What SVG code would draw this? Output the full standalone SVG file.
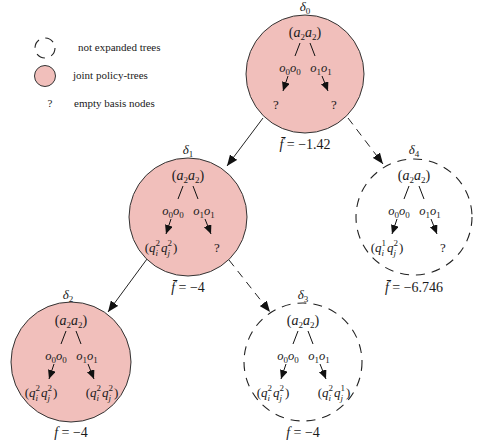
<svg xmlns="http://www.w3.org/2000/svg" width="477" height="441" viewBox="0 0 477 441">
<style>
  .bg{fill:#ffffff}
  .pink{fill:#f1bfbb;stroke:#333;stroke-width:1}
  .dash{fill:none;stroke:#222;stroke-width:1.1;stroke-dasharray:9 7}
  .t{font-family:"Liberation Serif","DejaVu Serif",serif;fill:#1a1a1a}
  .lbl{font-size:13px}
  .act{font-size:14px}
  .obs{font-size:12.5px}
  .leaf{font-size:13px}
  .fv{font-size:14px}
  .leg{font-size:11px}
  .it{font-style:italic}
  .sub{font-size:9px}
  .in{stroke:#111;stroke-width:1;fill:none}
  .conn{stroke:#222;stroke-width:1;fill:none}
  .cdash{stroke-dasharray:8 6}
</style>
<defs>
  <marker id="ahs" markerWidth="9" markerHeight="8" refX="9" refY="4" orient="auto" markerUnits="userSpaceOnUse">
    <path d="M0,0 L9,4 L0,8 z" fill="#111"/>
  </marker>
  <marker id="ahc" markerWidth="11" markerHeight="9" refX="11" refY="4.5" orient="auto" markerUnits="userSpaceOnUse">
    <path d="M0,0 L11,4.5 L0,9 z" fill="#111"/>
  </marker>
  <g id="core">
    <line class="in" x1="-5" y1="-31" x2="-10" y2="-18"/>
    <line class="in" x1="5" y1="-31" x2="10" y2="-18"/>
    <line class="in" x1="-17" y1="2" x2="-22" y2="17" marker-end="url(#ahs)"/>
    <line class="in" x1="17" y1="2" x2="23" y2="17" marker-end="url(#ahs)"/>
    <text class="t act" x="0" y="-37" text-anchor="middle">(<tspan class="it">a</tspan><tspan class="sub" dy="3">2</tspan><tspan class="it" dy="-3">a</tspan><tspan class="sub" dy="3">2</tspan><tspan dy="-3">)</tspan></text>
    <text class="t obs" x="-15" y="-2" text-anchor="middle"><tspan class="it">o</tspan><tspan class="sub" dy="3">0</tspan><tspan class="it" dy="-3">o</tspan><tspan class="sub" dy="3">0</tspan></text>
    <text class="t obs" x="16" y="-2" text-anchor="middle"><tspan class="it">o</tspan><tspan class="sub" dy="3">1</tspan><tspan class="it" dy="-3">o</tspan><tspan class="sub" dy="3">1</tspan></text>
  </g>
</defs>
<rect class="bg" x="0" y="0" width="477" height="441"/>

<g id="legend">
  <circle class="dash" cx="45" cy="48" r="10" style="stroke-dasharray:9 6.7"/>
  <text class="t leg" x="78" y="51">not expanded trees</text>
  <circle class="pink" cx="45" cy="76" r="10.5"/>
  <text class="t leg" x="73" y="79">joint policy-trees</text>
  <text class="t leg" x="50" y="107" text-anchor="middle">?</text>
  <text class="t leg" x="74" y="107">empty basis nodes</text>
</g>

<g id="connectors">
  <line class="conn" x1="263" y1="118" x2="227" y2="166" marker-end="url(#ahc)"/>
  <line class="conn cdash" x1="348" y1="118" x2="383" y2="164" marker-end="url(#ahc)"/>
  <line class="conn" x1="147" y1="259" x2="108" y2="312" marker-end="url(#ahc)"/>
  <line class="conn cdash" x1="229" y1="260" x2="270" y2="312" marker-end="url(#ahc)"/>
</g>

<g id="delta0" transform="translate(305,74)">
  <circle class="pink" r="59"/>
  <text class="t lbl" x="0" y="-63" text-anchor="middle"><tspan class="it">δ</tspan><tspan class="sub" dy="3">0</tspan></text>
  <use href="#core"/>
  <text class="t leaf" x="-29" y="35" text-anchor="middle">?</text>
  <text class="t leaf" x="29" y="35" text-anchor="middle">?</text>
  <text class="t fv" x="0" y="75" text-anchor="middle"><tspan class="it">f̄</tspan> = −1.42</text>
</g>

<g id="delta1" transform="translate(188,217)">
  <circle class="pink" r="59"/>
  <text class="t lbl" x="0" y="-63" text-anchor="middle"><tspan class="it">δ</tspan><tspan class="sub" dy="3">1</tspan></text>
  <use href="#core"/>
  <text class="t leaf" x="-27" y="35" text-anchor="middle">(<tspan class="it">q</tspan><tspan class="sub" dy="-6.5">2</tspan><tspan class="sub it" dx="-4.5" dy="10">i</tspan><tspan class="it" dx="3" dy="-3.5">q</tspan><tspan class="sub" dy="-6.5">2</tspan><tspan class="sub it" dx="-4.5" dy="10">j</tspan><tspan dx="3" dy="-3.5">)</tspan></text>
  <text class="t leaf" x="29" y="35" text-anchor="middle">?</text>
  <text class="t fv" x="0" y="75" text-anchor="middle"><tspan class="it">f̄</tspan> = −4</text>
</g>

<g id="delta4" transform="translate(414,217)">
  <circle class="dash" r="58"/>
  <text class="t lbl" x="0" y="-63" text-anchor="middle"><tspan class="it">δ</tspan><tspan class="sub" dy="3">4</tspan></text>
  <use href="#core"/>
  <text class="t leaf" x="-27" y="35" text-anchor="middle">(<tspan class="it">q</tspan><tspan class="sub" dy="-6.5">1</tspan><tspan class="sub it" dx="-4.5" dy="10">i</tspan><tspan class="it" dx="3" dy="-3.5">q</tspan><tspan class="sub" dy="-6.5">2</tspan><tspan class="sub it" dx="-4.5" dy="10">j</tspan><tspan dx="3" dy="-3.5">)</tspan></text>
  <text class="t leaf" x="29" y="35" text-anchor="middle">?</text>
  <text class="t fv" x="0" y="75" text-anchor="middle"><tspan class="it">f̄</tspan> = −6.746</text>
</g>

<g id="delta2" transform="translate(71,362)">
  <circle class="pink" r="60"/>
  <text class="t lbl" x="-3" y="-63" text-anchor="middle"><tspan class="it">δ</tspan><tspan class="sub" dy="3">2</tspan></text>
  <use href="#core"/>
  <text class="t leaf" x="-30" y="35" text-anchor="middle">(<tspan class="it">q</tspan><tspan class="sub" dy="-6.5">2</tspan><tspan class="sub it" dx="-4.5" dy="10">i</tspan><tspan class="it" dx="3" dy="-3.5">q</tspan><tspan class="sub" dy="-6.5">2</tspan><tspan class="sub it" dx="-4.5" dy="10">j</tspan><tspan dx="3" dy="-3.5">)</tspan></text>
  <text class="t leaf" x="31" y="35" text-anchor="middle">(<tspan class="it">q</tspan><tspan class="sub" dy="-6.5">2</tspan><tspan class="sub it" dx="-4.5" dy="10">i</tspan><tspan class="it" dx="3" dy="-3.5">q</tspan><tspan class="sub" dy="-6.5">2</tspan><tspan class="sub it" dx="-4.5" dy="10">j</tspan><tspan dx="3" dy="-3.5">)</tspan></text>
  <text class="t fv" x="0" y="75" text-anchor="middle"><tspan class="it">f</tspan> = −4</text>
</g>

<g id="delta3" transform="translate(303,362)">
  <circle class="dash" r="59"/>
  <text class="t lbl" x="0" y="-63" text-anchor="middle"><tspan class="it">δ</tspan><tspan class="sub" dy="3">3</tspan></text>
  <use href="#core"/>
  <text class="t leaf" x="-30" y="35" text-anchor="middle">(<tspan class="it">q</tspan><tspan class="sub" dy="-6.5">2</tspan><tspan class="sub it" dx="-4.5" dy="10">i</tspan><tspan class="it" dx="3" dy="-3.5">q</tspan><tspan class="sub" dy="-6.5">2</tspan><tspan class="sub it" dx="-4.5" dy="10">j</tspan><tspan dx="3" dy="-3.5">)</tspan></text>
  <text class="t leaf" x="31" y="35" text-anchor="middle">(<tspan class="it">q</tspan><tspan class="sub" dy="-6.5">2</tspan><tspan class="sub it" dx="-4.5" dy="10">i</tspan><tspan class="it" dx="3" dy="-3.5">q</tspan><tspan class="sub" dy="-6.5">1</tspan><tspan class="sub it" dx="-4.5" dy="10">j</tspan><tspan dx="3" dy="-3.5">)</tspan></text>
  <text class="t fv" x="0" y="75" text-anchor="middle"><tspan class="it">f</tspan> = −4</text>
</g>
</svg>
